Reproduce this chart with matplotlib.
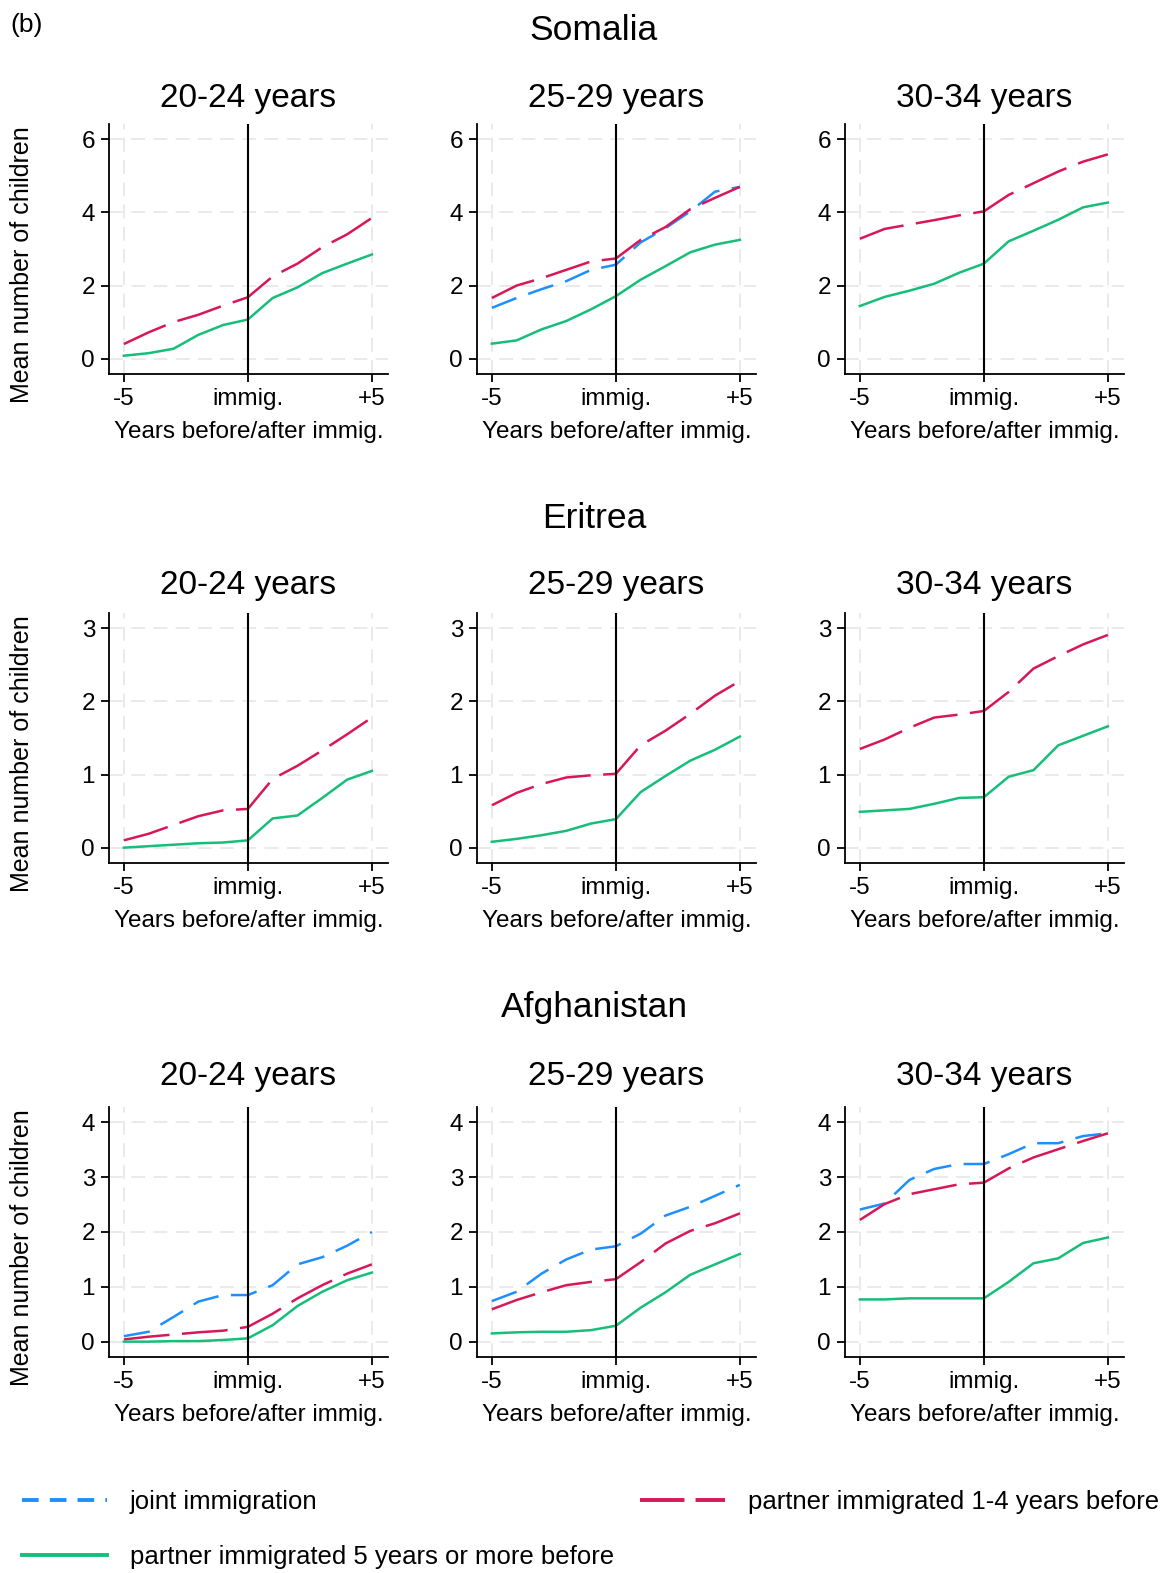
import matplotlib
matplotlib.use('Agg')
import matplotlib.pyplot as plt
from matplotlib.lines import Line2D

plt.rcParams['font.family'] = ['Liberation Sans', 'DejaVu Sans']
plt.rcParams['lines.scale_dashes'] = False

#-----------------------------------------------------------------
# data: mean number of children, years -5..+5
#-----------------------------------------------------------------
years = [-5, -4, -3, -2, -1, 0, 1, 2, 3, 4, 5]
countries = ['Somalia', 'Eritrea', 'Afghanistan']
age_groups = ['20-24 years', '25-29 years', '30-34 years']
yticks_by_country = [[0, 2, 4, 6], [0, 1, 2, 3], [0, 1, 2, 3, 4]]
ylim_by_country = [(-0.42, 6.42), (-0.21, 3.21), (-0.28, 4.28)]
xtick_labels = ['-5', 'immig.', '+5']

# Somalia
som_p14_2024 = [0.40, 0.72, 1.00, 1.20, 1.45, 1.68, 2.25, 2.60, 3.05, 3.40, 3.85]
som_p5_2024 = [0.08, 0.15, 0.27, 0.65, 0.92, 1.07, 1.66, 1.95, 2.34, 2.60, 2.85]
som_joint_2529 = [1.39, 1.66, 1.90, 2.12, 2.43, 2.57, 3.18, 3.57, 4.03, 4.57, 4.70]
som_p14_2529 = [1.66, 2.00, 2.20, 2.43, 2.66, 2.74, 3.25, 3.60, 4.09, 4.40, 4.70]
som_p5_2529 = [0.41, 0.50, 0.80, 1.03, 1.35, 1.71, 2.16, 2.53, 2.91, 3.12, 3.25]
som_p14_3034 = [3.28, 3.55, 3.67, 3.79, 3.92, 4.03, 4.48, 4.80, 5.12, 5.39, 5.59]
som_p5_3034 = [1.44, 1.69, 1.86, 2.05, 2.35, 2.60, 3.21, 3.50, 3.80, 4.14, 4.27]

# Eritrea
eri_p14_2024 = [0.10, 0.19, 0.31, 0.43, 0.51, 0.53, 0.94, 1.12, 1.33, 1.55, 1.78]
eri_p5_2024 = [0.00, 0.02, 0.04, 0.06, 0.07, 0.10, 0.40, 0.44, 0.68, 0.93, 1.05]
eri_p14_2529 = [0.58, 0.75, 0.87, 0.96, 0.99, 1.01, 1.40, 1.60, 1.83, 2.08, 2.28]
eri_p5_2529 = [0.08, 0.12, 0.17, 0.23, 0.33, 0.39, 0.76, 0.98, 1.19, 1.34, 1.52]
eri_p14_3034 = [1.35, 1.48, 1.64, 1.78, 1.82, 1.87, 2.13, 2.45, 2.62, 2.78, 2.91]
eri_p5_3034 = [0.49, 0.51, 0.53, 0.60, 0.68, 0.69, 0.97, 1.06, 1.40, 1.53, 1.66]

# Afghanistan
afg_joint_2024 = [0.10, 0.18, 0.45, 0.73, 0.85, 0.85, 1.03, 1.41, 1.54, 1.75, 2.00]
afg_p14_2024 = [0.04, 0.09, 0.13, 0.17, 0.20, 0.27, 0.51, 0.79, 1.03, 1.24, 1.41]
afg_p5_2024 = [0.00, 0.00, 0.01, 0.01, 0.03, 0.06, 0.30, 0.65, 0.91, 1.12, 1.26]
afg_joint_2529 = [0.74, 0.91, 1.24, 1.50, 1.68, 1.74, 1.97, 2.30, 2.46, 2.66, 2.86]
afg_p14_2529 = [0.59, 0.76, 0.90, 1.03, 1.09, 1.14, 1.45, 1.79, 2.02, 2.16, 2.34]
afg_p5_2529 = [0.15, 0.17, 0.18, 0.18, 0.21, 0.29, 0.62, 0.90, 1.22, 1.41, 1.60]
afg_joint_3034 = [2.41, 2.52, 2.95, 3.15, 3.24, 3.24, 3.42, 3.62, 3.62, 3.75, 3.80]
afg_p14_3034 = [2.22, 2.51, 2.69, 2.78, 2.87, 2.90, 3.16, 3.36, 3.51, 3.66, 3.80]
afg_p5_3034 = [0.77, 0.77, 0.79, 0.79, 0.79, 0.79, 1.09, 1.43, 1.52, 1.80, 1.90]

# (joint, partner 1-4 yrs before, partner 5+ yrs before) per panel
panels = [
    [(None, som_p14_2024, som_p5_2024),
     (som_joint_2529, som_p14_2529, som_p5_2529),
     (None, som_p14_3034, som_p5_3034)],
    [(None, eri_p14_2024, eri_p5_2024),
     (None, eri_p14_2529, eri_p5_2529),
     (None, eri_p14_3034, eri_p5_3034)],
    [(afg_joint_2024, afg_p14_2024, afg_p5_2024),
     (afg_joint_2529, afg_p14_2529, afg_p5_2529),
     (afg_joint_3034, afg_p14_3034, afg_p5_3034)],
]

labels = ['joint immigration', 'partner immigrated 1-4 years before',
          'partner immigrated 5 years or more before']
c_blue = '#1e8fff'
c_red = '#d8175a'
c_green = '#16be7a'
lw = 1.8

W, H = 1164, 1573
fig = plt.figure(figsize=(W / 100, H / 100), dpi=100)

# layout in pixels
col_left = [109, 477, 845]
ax_w = 279
row_top = [124, 613, 1107]
ax_h = 250
country_y = [30, 518, 1008]
title_y = [98, 586, 1077]

for r in range(3):
    fig.text(594 / W, 1 - country_y[r] / H, countries[r], ha='center',
             va='center', fontsize=25.5)
    fig.text(22 / W, 1 - (row_top[r] + ax_h / 2 + 16) / H,
             'Mean number of children', rotation=90, ha='center',
             va='center', fontsize=18)
    for c in range(3):
        ax = fig.add_axes([col_left[c] / W, 1 - (row_top[r] + ax_h) / H,
                           ax_w / W, ax_h / H])
        joint, p14, p5 = panels[r][c]
        if joint is not None:
            ax.plot(years, joint, color=c_blue, lw=lw, dashes=(19, 9))
        ax.plot(years, p14, color=c_red, lw=lw, dashes=(33, 9))
        ax.plot(years, p5, color=c_green, lw=lw)
        ax.axvline(0, color='black', lw=1.5, zorder=5)

        ax.set_xlim(-5.6, 5.65)
        ax.set_ylim(*ylim_by_country[r])
        ax.set_xticks([-5, 0, 5])
        ax.set_xticklabels(xtick_labels)
        ax.set_yticks(yticks_by_country[r])
        ax.grid(True, color='#e6e6e6', lw=1.2, dashes=(10, 6))
        ax.set_axisbelow(True)
        for s in ['top', 'right']:
            ax.spines[s].set_visible(False)
        for s in ['left', 'bottom']:
            ax.spines[s].set_linewidth(1.3)
        ax.tick_params(direction='out', length=6, width=1.3,
                       labelsize=17.5, pad=4)
        ax.set_xlabel('Years before/after immig.', fontsize=17.5,
                      labelpad=8)
        fig.text((col_left[c] + ax_w / 2) / W, 1 - title_y[r] / H,
                 age_groups[c], ha='center', va='center', fontsize=24)

fig.text(10 / W, 1 - 25 / H, '(b)', ha='left', va='center', fontsize=19)

# legend, filled column-wise: blue, green | red
handles = [Line2D([], [], color=c_blue, lw=2.8, dashes=(12, 8)),
           Line2D([], [], color=c_green, lw=2.8),
           Line2D([], [], color=c_red, lw=2.8, dashes=(32, 8))]
fig.legend(handles, [labels[0], labels[2], labels[1]], ncol=2,
           loc='upper left', bbox_to_anchor=(-1 / W, 1 - 1467 / H),
           frameon=False, fontsize=18.5, handlelength=3.3,
           handletextpad=0.9, columnspacing=1.0, labelspacing=1.2)

fig.savefig('out.png', dpi=100)
